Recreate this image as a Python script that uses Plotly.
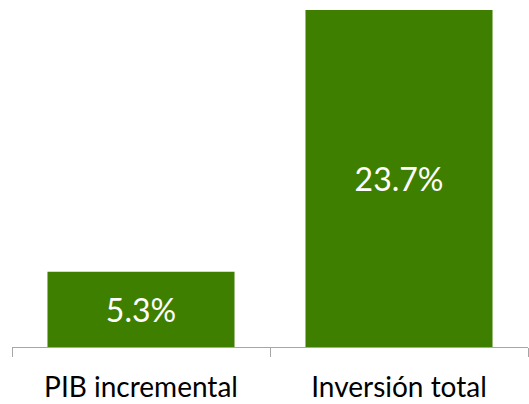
import plotly.graph_objects as go

categories = ["PIB incremental", "Inversión total"]
values = [5.3, 23.7]
labels = ["5.3%", "23.7%"]

fig = go.Figure(go.Bar(
    x=categories,
    y=values,
    text=labels,
    textposition="inside",
    insidetextanchor="middle",
    textangle=0,
    textfont=dict(color="white", size=32, family="Lato"),
    marker=dict(color="#3f7f00", line=dict(width=0)),
    hoverinfo="skip",
))

fig.update_layout(
    width=529, height=404,
    margin=dict(l=12, r=1, t=10, b=55),
    paper_bgcolor="white",
    plot_bgcolor="white",
    bargap=0.275,
    showlegend=False,
    uniformtext=dict(mode=False),
)
fig.update_xaxes(
    showline=True, linecolor="#a6a6a6", linewidth=1,
    ticks="outside", tickson="boundaries", ticklen=9, tickcolor="#a6a6a6",
    tickfont=dict(family="Lato", size=28, color="black"),
    ticklabelstandoff=15,
    showgrid=False,
)
fig.update_yaxes(visible=False, range=[0, 23.7], showgrid=False)

fig.write_html("out.html")
